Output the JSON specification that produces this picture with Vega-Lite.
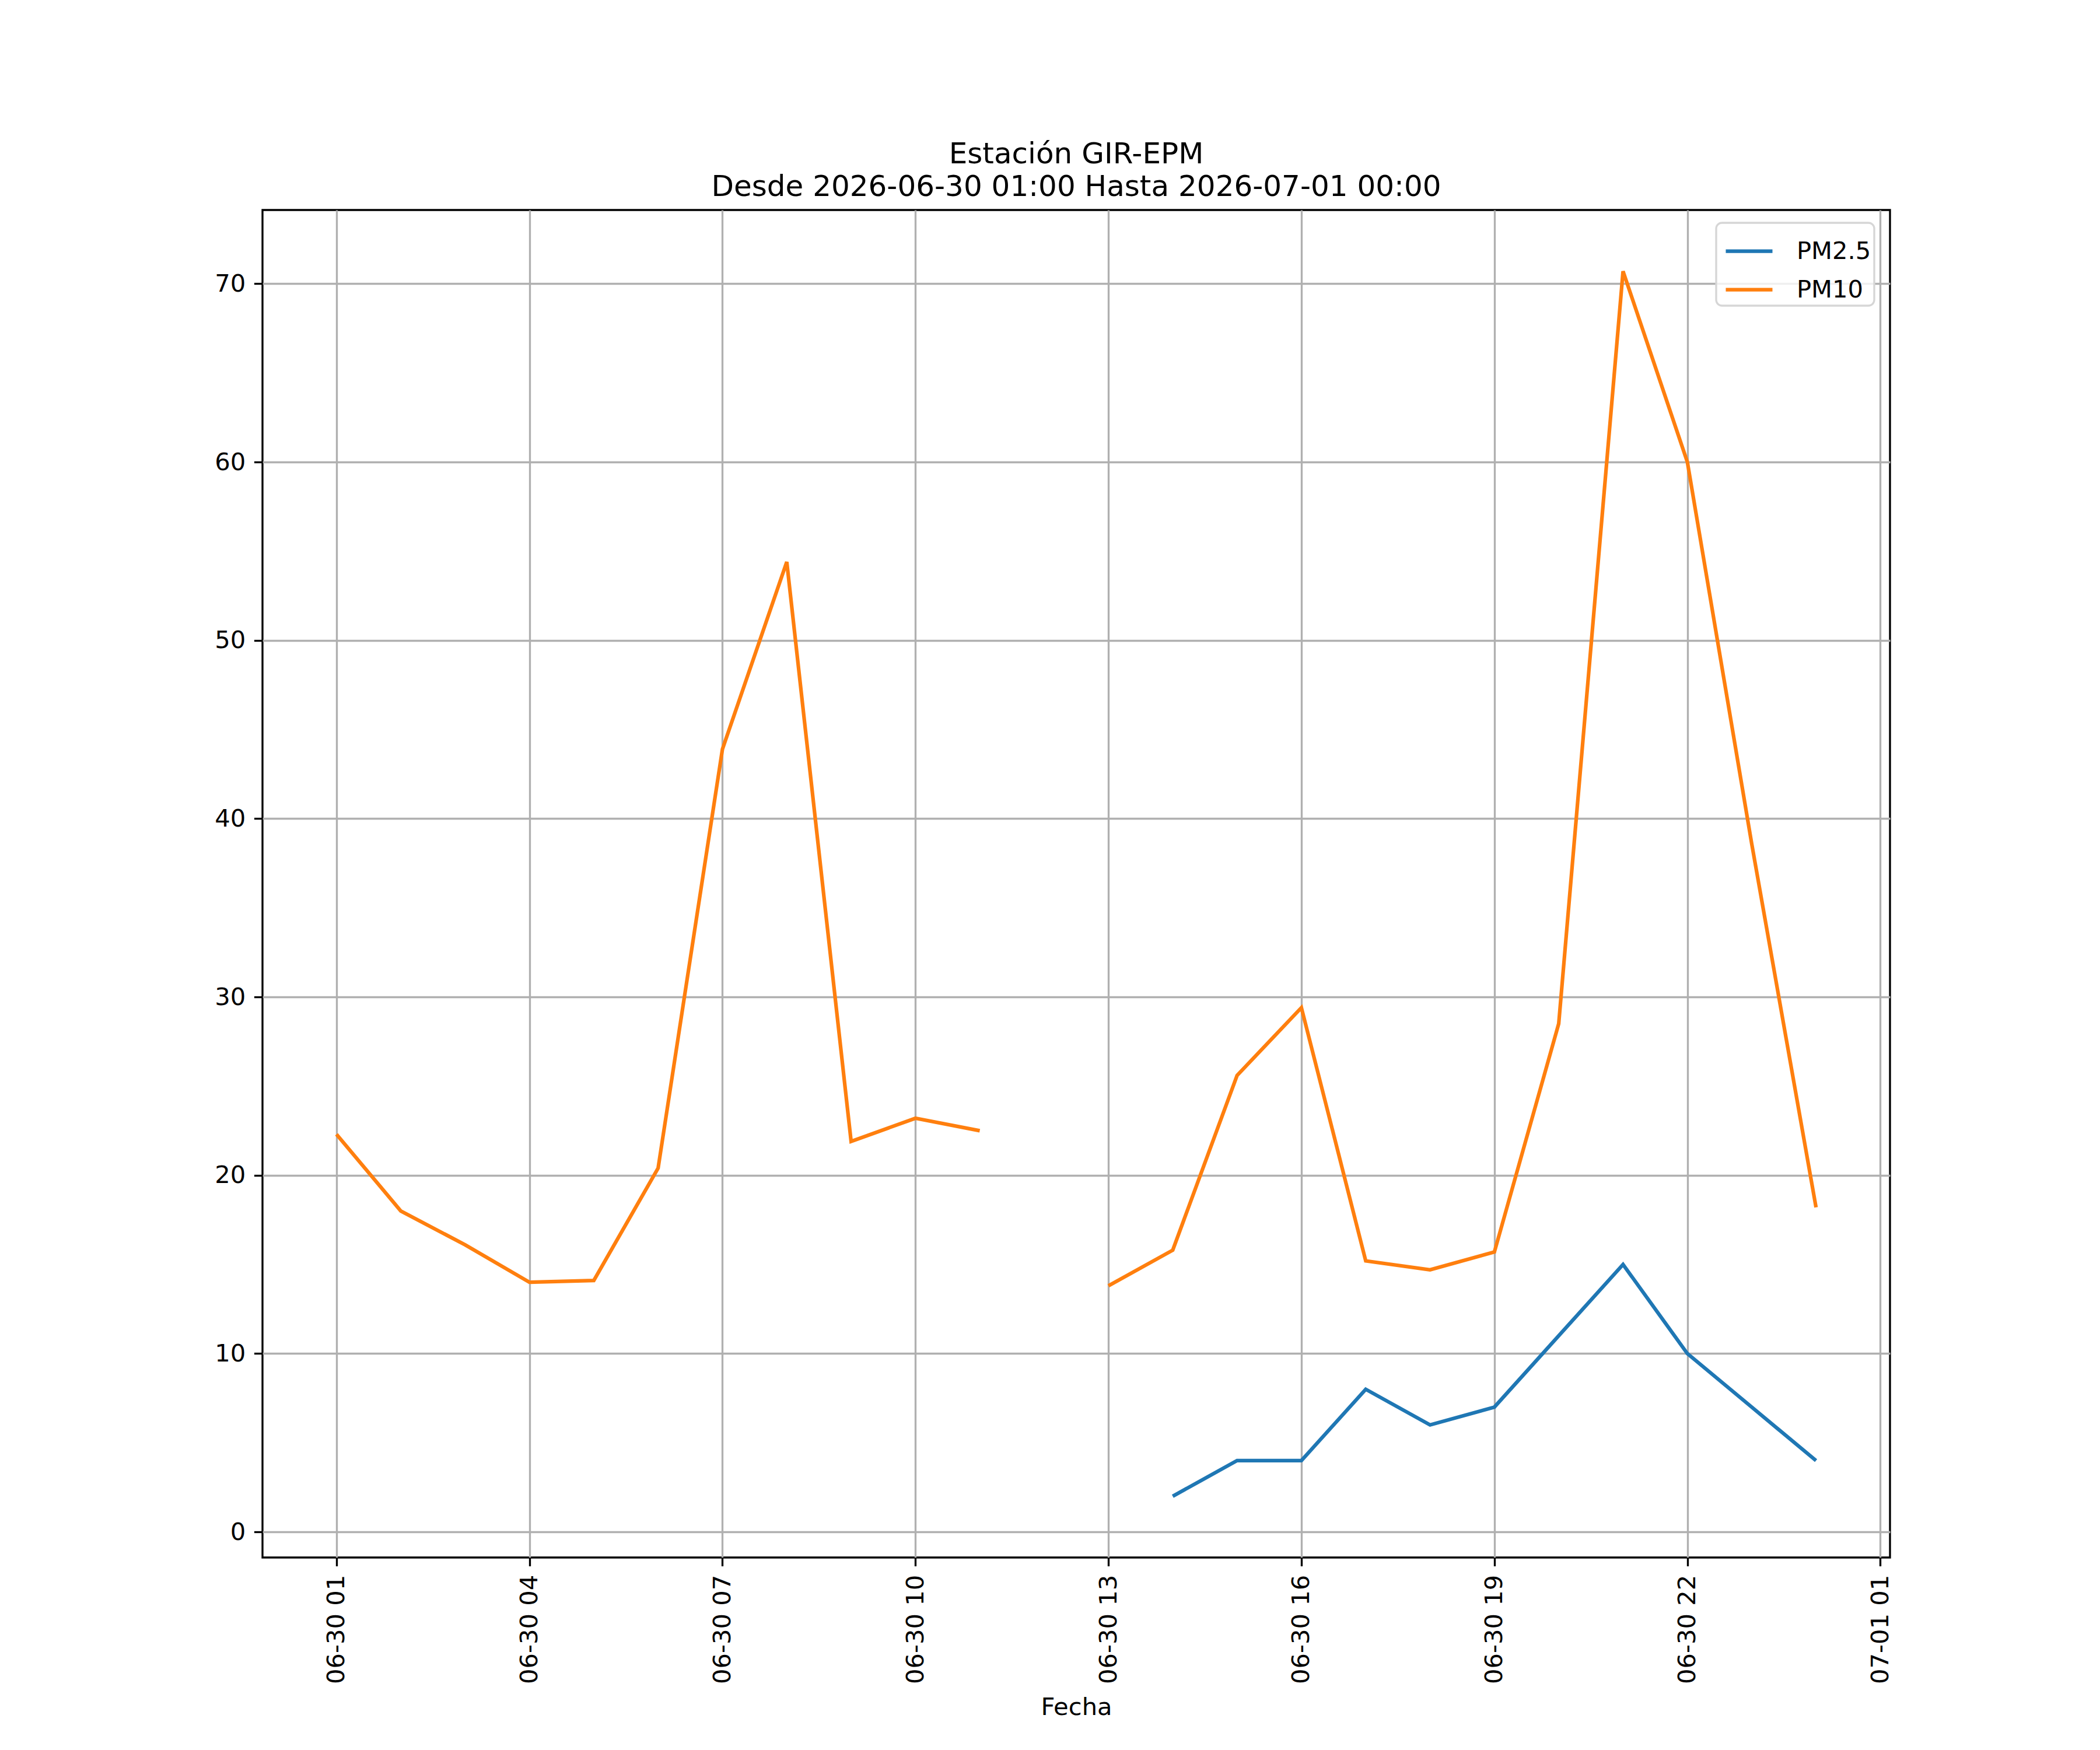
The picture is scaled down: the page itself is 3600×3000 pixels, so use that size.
{
  "$schema": "https://vega.github.io/schema/vega-lite/v6.json",
  "autosize": "none",
  "padding": {"left": 450, "top": 360, "right": 360, "bottom": 330},
  "width": 2790,
  "height": 2310,
  "background": "white",
  "title": {
    "text": ["Estación GIR-EPM", "Desde 2026-06-30 01:00 Hasta 2026-07-01 00:00"],
    "fontSize": 50,
    "fontWeight": "normal",
    "font": "DejaVu Sans",
    "color": "black",
    "anchor": "middle",
    "lineHeight": 56,
    "offset": 14
  },
  "data": {
    "values": [
      {"fecha": "2026-06-30T14:00:00", "variable": "PM2.5", "valor": 2},
      {"fecha": "2026-06-30T15:00:00", "variable": "PM2.5", "valor": 4},
      {"fecha": "2026-06-30T16:00:00", "variable": "PM2.5", "valor": 4},
      {"fecha": "2026-06-30T17:00:00", "variable": "PM2.5", "valor": 8},
      {"fecha": "2026-06-30T18:00:00", "variable": "PM2.5", "valor": 6},
      {"fecha": "2026-06-30T19:00:00", "variable": "PM2.5", "valor": 7},
      {"fecha": "2026-06-30T20:00:00", "variable": "PM2.5", "valor": 11},
      {"fecha": "2026-06-30T21:00:00", "variable": "PM2.5", "valor": 15},
      {"fecha": "2026-06-30T22:00:00", "variable": "PM2.5", "valor": 10},
      {"fecha": "2026-06-30T23:00:00", "variable": "PM2.5", "valor": 7},
      {"fecha": "2026-07-01T00:00:00", "variable": "PM2.5", "valor": 4},
      {"fecha": "2026-06-30T01:00:00", "variable": "PM10", "valor": 22.3},
      {"fecha": "2026-06-30T02:00:00", "variable": "PM10", "valor": 18.0},
      {"fecha": "2026-06-30T03:00:00", "variable": "PM10", "valor": 16.1},
      {"fecha": "2026-06-30T04:00:00", "variable": "PM10", "valor": 14.0},
      {"fecha": "2026-06-30T05:00:00", "variable": "PM10", "valor": 14.1},
      {"fecha": "2026-06-30T06:00:00", "variable": "PM10", "valor": 20.4},
      {"fecha": "2026-06-30T07:00:00", "variable": "PM10", "valor": 43.9},
      {"fecha": "2026-06-30T08:00:00", "variable": "PM10", "valor": 54.4},
      {"fecha": "2026-06-30T09:00:00", "variable": "PM10", "valor": 21.9},
      {"fecha": "2026-06-30T10:00:00", "variable": "PM10", "valor": 23.2},
      {"fecha": "2026-06-30T11:00:00", "variable": "PM10", "valor": 22.5},
      {"fecha": "2026-06-30T12:00:00", "variable": "PM10", "valor": null},
      {"fecha": "2026-06-30T13:00:00", "variable": "PM10", "valor": 13.8},
      {"fecha": "2026-06-30T14:00:00", "variable": "PM10", "valor": 15.8},
      {"fecha": "2026-06-30T15:00:00", "variable": "PM10", "valor": 25.6},
      {"fecha": "2026-06-30T16:00:00", "variable": "PM10", "valor": 29.4},
      {"fecha": "2026-06-30T17:00:00", "variable": "PM10", "valor": 15.2},
      {"fecha": "2026-06-30T18:00:00", "variable": "PM10", "valor": 14.7},
      {"fecha": "2026-06-30T19:00:00", "variable": "PM10", "valor": 15.7},
      {"fecha": "2026-06-30T20:00:00", "variable": "PM10", "valor": 28.5},
      {"fecha": "2026-06-30T21:00:00", "variable": "PM10", "valor": 70.7},
      {"fecha": "2026-06-30T22:00:00", "variable": "PM10", "valor": 60.0},
      {"fecha": "2026-06-30T23:00:00", "variable": "PM10", "valor": 38.6},
      {"fecha": "2026-07-01T00:00:00", "variable": "PM10", "valor": 18.2}
    ]
  },
  "mark": {
    "type": "line",
    "strokeWidth": 6.25,
    "invalid": "break-paths-show-domains",
    "clip": true
  },
  "encoding": {
    "x": {
      "field": "fecha",
      "type": "temporal",
      "title": "Fecha",
      "scale": {
        "type": "time",
        "domain": [
          {"year": 2026, "month": "jun", "date": 29, "hours": 23, "minutes": 51},
          {"year": 2026, "month": "jul", "date": 1, "hours": 1, "minutes": 9}
        ]
      },
      "axis": {
        "values": [
          {"year": 2026, "month": "jun", "date": 30, "hours": 1},
          {"year": 2026, "month": "jun", "date": 30, "hours": 4},
          {"year": 2026, "month": "jun", "date": 30, "hours": 7},
          {"year": 2026, "month": "jun", "date": 30, "hours": 10},
          {"year": 2026, "month": "jun", "date": 30, "hours": 13},
          {"year": 2026, "month": "jun", "date": 30, "hours": 16},
          {"year": 2026, "month": "jun", "date": 30, "hours": 19},
          {"year": 2026, "month": "jun", "date": 30, "hours": 22},
          {"year": 2026, "month": "jul", "date": 1, "hours": 1}
        ],
        "format": "%m-%d %H",
        "labelAngle": 270,
        "labelAlign": "right",
        "labelBaseline": "middle",
        "labelLimit": 0,
        "titlePadding": 36
      }
    },
    "y": {
      "field": "valor",
      "type": "quantitative",
      "title": null,
      "scale": {"domain": [-1.435, 74.135], "nice": false, "zero": false},
      "axis": {"values": [0, 10, 20, 30, 40, 50, 60, 70]}
    },
    "color": {
      "field": "variable",
      "type": "nominal",
      "title": null,
      "scale": {"domain": ["PM2.5", "PM10"], "range": ["#1f77b4", "#ff7f0e"]},
      "legend": {
        "orient": "none",
        "legendX": 2492,
        "legendY": 22,
        "symbolType": "stroke",
        "symbolSize": 6400,
        "symbolStrokeWidth": 6.25,
        "symbolOffset": 8,
        "labelFontSize": 41.67,
        "labelOffset": 38,
        "rowPadding": -27,
        "padding": 5,
        "fillColor": "rgba(255,255,255,0.8)",
        "strokeColor": "#d6d6d6",
        "cornerRadius": 10,
        "encode": {
          "legend": {"update": {"strokeWidth": {"value": 3.33}}}
        }
      }
    }
  },
  "config": {
    "font": "DejaVu Sans",
    "view": {"stroke": "black", "strokeWidth": 3.33},
    "axis": {
      "domain": false,
      "grid": true,
      "gridColor": "#b0b0b0",
      "gridWidth": 3.33,
      "gridOpacity": 1,
      "ticks": true,
      "tickColor": "black",
      "tickWidth": 3.33,
      "tickSize": 14.6,
      "labelPadding": 14.6,
      "labelFontSize": 41.67,
      "labelColor": "black",
      "labelFont": "DejaVu Sans",
      "titleFont": "DejaVu Sans",
      "titleFontSize": 41.67,
      "titleFontWeight": "normal",
      "titleColor": "black",
      "labelOverlap": false,
      "labelFlush": false
    },
    "legend": {
      "labelFont": "DejaVu Sans",
      "labelColor": "black"
    }
  }
}
